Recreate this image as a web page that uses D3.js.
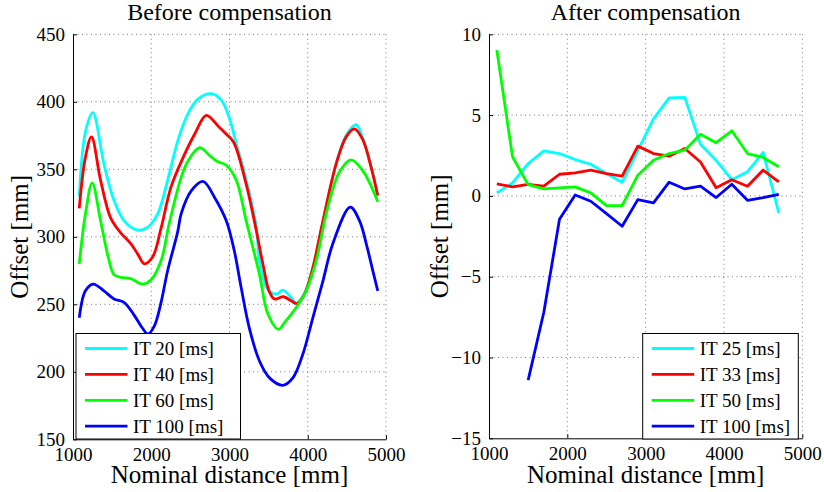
<!DOCTYPE html>
<html>
<head>
<meta charset="utf-8">
<script src="https://cdn.jsdelivr.net/npm/d3@7"></script>
<style>
  html, body { margin: 0; padding: 0; background: #fff; }
  svg { display: block; }
  text { font-family: "Liberation Serif", "Times New Roman", serif; fill: #000; }
</style>
</head>
<body>
<svg id="chart" width="824" height="492"></svg>
<script>
// ---------- Data: "Before compensation" ----------
const beforeTitle = "Before compensation";
const beforeNames = ["IT 20 [ms]", "IT 40 [ms]", "IT 60 [ms]", "IT 100 [ms]"];
const beforeX20 = [1080,1160,1253,1395,1524,1652,1824,1953,2082,2210,2339,2468,2597,2768,2897,3004,3086,3213,3341,3383,3469,3554,3620,3682,3788,3852,3958,4065,4171,4363,4490,4619,4703,4810,4895];
const beforeY20 = [330,378,392,354,327,312,305,307,317,342,371,391,402,406,401,387,369,342,308,282,263,258,258,260.5,255,250.5,258,277,305,354,375,383,373,352,331];
const beforeX40 = [1080,1159,1236,1352,1481,1609,1738,1830,1910,2017,2124,2253,2425,2554,2704,2854,2960,3053,3213,3341,3426,3511,3575,3690,3788,3861,3958,4065,4180,4363,4490,4597,4703,4810,4895];
const beforeY40 = [321,359,374,342,314,303,295,287,280,285,306,337,361,376,390,382,376,370,339,305,280,259,254,255.6,252.6,250.6,257.6,277,308,354,374,380,372,351.5,330.5];
const beforeX60 = [1080,1159,1245,1352,1450,1524,1609,1738,1888,1996,2124,2230,2382,2468,2618,2750,2840,2958,3086,3213,3383,3490,3626,3703,3852,3980,4107,4192,4235,4405,4554,4703,4895];
const beforeY60 = [280,317,340,312,285,272,270,269,265,268,282,310,344,356,366,360,356,353,342,312,272,243,231.5,236.5,247.6,260,282,305,317,348,357,349,326];
const beforeX100 = [1080,1159,1258,1395,1524,1652,1781,1880,1960,2040,2120,2210,2339,2382,2511,2661,2811,2958,3060,3150,3255,3383,3511,3682,3810,3937,4065,4193,4321,4543,4661,4760,4831,4895];
const beforeY100 = [240,260,265,260,254,251.5,242,233,228,234,250,275,304,317,334,341,329,312,290,262,232,208,195.5,190,195.5,213,240,267,295,322,312,292,275,260];
const beforeXTicks = [1000,2000,3000,4000,5000];
const beforeYTicks = [150,200,250,300,350,400,450];

// ---------- Data: "After compensation" ----------
const afterTitle = "After compensation";
const afterNames = ["IT 25 [ms]", "IT 33 [ms]", "IT 50 [ms]", "IT 100 [ms]"];
const afterX = [1100,1300,1500,1700,1900,2100,2300,2500,2700,2900,3100,3300,3500,3700,3900,4100,4300,4500,4700];
const afterY25 = [0.19,0.8,2.0,2.79,2.62,2.25,1.96,1.38,0.85,2.8,4.77,6.07,6.1,3.2,2.2,1.0,1.49,2.69,-1.05];
const afterY33 = [0.74,0.56,0.72,0.6,1.34,1.43,1.6,1.38,1.22,3.08,2.62,2.46,2.93,2.1,0.5,1.0,0.6,1.6,0.87];
const afterY50 = [9.03,2.42,0.7,0.43,0.5,0.56,0.19,-0.6,-0.6,1.28,2.21,2.62,2.83,3.82,3.29,4.03,2.62,2.38,1.8];
const afterX100 = [1500,1700,1900,2100,2300,2500,2700,2900,3100,3300,3500,3700,3900,4100,4300,4500,4700];
const afterY100 = [-11.4,-7.2,-1.45,0.06,-0.33,-1.1,-1.88,-0.23,-0.43,0.85,0.43,0.6,-0.1,0.72,-0.27,-0.1,0.1];
const afterXTicks = [1000,2000,3000,4000,5000];
const afterYTicks = [-15,-10,-5,0,5,10];

const colors = ["#00ffff", "#ff0000", "#00ff00", "#0000ff"];
const xLabel = "Nominal distance [mm]";
const yLabel = "Offset [mm]";

const svg = d3.select("#chart");

function zip(xs, ys) { return xs.map((x, i) => ({x: x, y: ys[i]})); }

function panel(opts) {
  const g = svg.append("g");
  const x = d3.scaleLinear().domain([1000, 5000]).range([opts.left, opts.right]);
  const y = d3.scaleLinear().domain(opts.yDomain).range([opts.bottom, opts.top]);

  // grid (dotted)
  const grid = g.append("g").attr("stroke", "#555").attr("stroke-width", 0.8)
    .attr("stroke-dasharray", "1,3.5");
  opts.xTicks.forEach(t => {
    if (t === 1000) return;
    grid.append("line").attr("x1", x(t)).attr("x2", x(t)).attr("y1", opts.top).attr("y2", opts.bottom);
  });
  opts.yTicks.forEach(t => {
    if (t === opts.yDomain[0]) return;
    grid.append("line").attr("x1", opts.left).attr("x2", opts.right).attr("y1", y(t)).attr("y2", y(t));
  });

  // series
  const clipId = "clip" + opts.id;
  svg.append("clipPath").attr("id", clipId).append("rect")
    .attr("x", opts.left).attr("y", opts.top - 2)
    .attr("width", opts.right - opts.left).attr("height", opts.bottom - opts.top + 2);
  const line = d3.line().x(d => x(d.x)).y(d => y(d.y)).curve(opts.curve);
  opts.series.forEach((s, i) => {
    g.append("path").datum(s).attr("d", line)
      .attr("fill", "none").attr("stroke", colors[i]).attr("stroke-width", 2.8)
      .attr("stroke-linejoin", "round").attr("clip-path", "url(#" + clipId + ")");
  });

  // axes (left and bottom, inward ticks)
  const xAxis = d3.axisBottom(x).tickValues(opts.xTicks).tickSizeInner(-4).tickSizeOuter(0)
    .tickPadding(6).tickFormat(d3.format("d"));
  const gx = g.append("g").attr("transform", `translate(0,${opts.bottom})`).call(xAxis);
  gx.select(".domain").attr("stroke", "#000").attr("stroke-width", 1);
  gx.selectAll("text").attr("font-size", 19).attr("dy", "0.85em");

  const yAxis = d3.axisLeft(y).tickValues(opts.yTicks).tickSizeInner(-4).tickSizeOuter(0)
    .tickPadding(8).tickFormat(d => d < 0 ? "\u2212" + Math.abs(d) : String(d));
  const gy = g.append("g").attr("transform", `translate(${opts.left},0)`).call(yAxis);
  gy.select(".domain").attr("stroke", "#000").attr("stroke-width", 1);
  gy.selectAll("text").attr("font-size", 19);

  // title and labels
  const cx = (opts.left + opts.right) / 2;
  g.append("text").attr("x", cx).attr("y", 20).attr("text-anchor", "middle")
    .attr("font-size", 24).text(opts.title);
  g.append("text").attr("x", cx).attr("y", 483).attr("text-anchor", "middle")
    .attr("font-size", 25).text(xLabel);
  g.append("text").attr("transform", `translate(${opts.yLabelX},${(opts.top + opts.bottom) / 2}) rotate(-90)`)
    .attr("text-anchor", "middle").attr("font-size", 25).text(yLabel);

  // legend
  const lg = g.append("g");
  lg.append("rect").attr("x", opts.legX).attr("y", 333.5).attr("width", opts.legW).attr("height", 105.5)
    .attr("fill", "#fff").attr("stroke", "#000").attr("stroke-width", 1);
  opts.names.forEach((n, i) => {
    const yy = 348.5 + i * 25.9;
    lg.append("line").attr("x1", opts.legX + 9).attr("x2", opts.legX + 51.5)
      .attr("y1", yy).attr("y2", yy).attr("stroke", colors[i]).attr("stroke-width", 2.8);
    lg.append("text").attr("x", opts.legX + 57).attr("y", yy).attr("dy", "0.34em")
      .attr("font-size", 19).text(n);
  });
}

panel({
  id: "a", left: 73, right: 386, top: 34.3, bottom: 439.3,
  yDomain: [150, 450], xTicks: beforeXTicks, yTicks: beforeYTicks,
  series: [zip(beforeX20, beforeY20), zip(beforeX40, beforeY40), zip(beforeX60, beforeY60), zip(beforeX100, beforeY100)],
  curve: d3.curveCatmullRom.alpha(0.5), title: beforeTitle, names: beforeNames,
  yLabelX: 28, legX: 76, legW: 164.5
});

panel({
  id: "b", left: 489, right: 802.3, top: 34.3, bottom: 438.3,
  yDomain: [-15, 10], xTicks: afterXTicks, yTicks: afterYTicks,
  series: [zip(afterX, afterY25), zip(afterX, afterY33), zip(afterX, afterY50), zip(afterX100, afterY100)],
  curve: d3.curveLinear, title: afterTitle, names: afterNames,
  yLabelX: 448, legX: 642.7, legW: 155.6
});
</script>
</body>
</html>
